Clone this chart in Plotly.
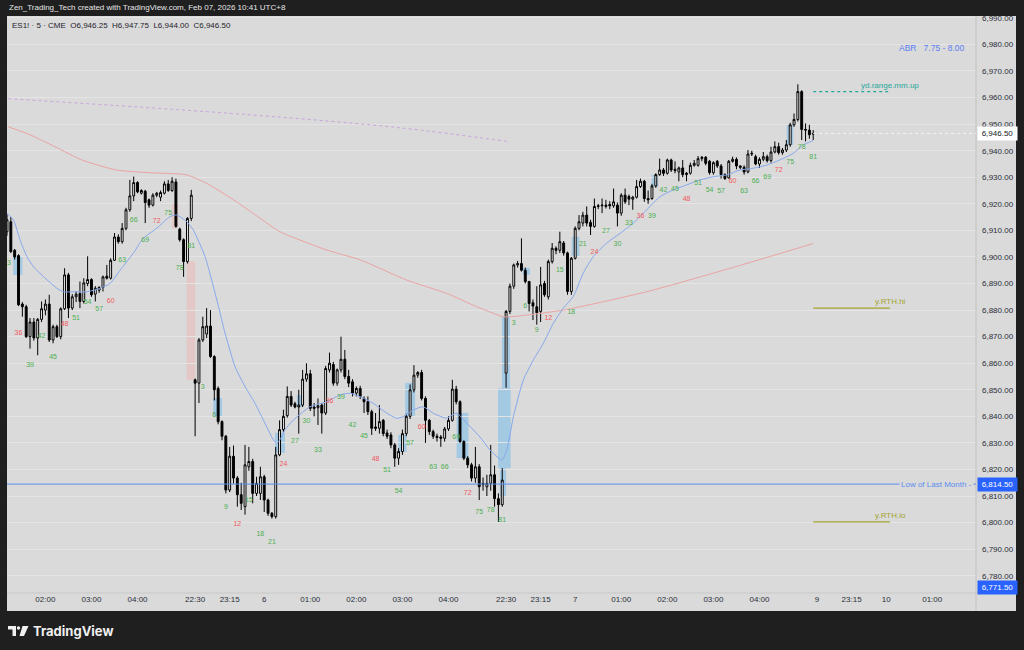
import plotly.graph_objects as go

# ---------------- DATA ----------------
BARS_PER_SESSION = 81  # RTH 22:30 - 05:15 (UTC+8), 5-minute bars

# Session 1 (visible from bar 33 to 81)
s1_first_bar = 33
s1_open = [6909.5, 6913.25, 6902.5, 6900.5, 6882.25, 6881.25, 6870.0, 6875.5, 6869.5, 6876.5,
           6880.0, 6882.25, 6868.75, 6873.75, 6870.0, 6880.5, 6893.25, 6880.75, 6885.0, 6886.25,
           6883.25, 6890.0, 6891.5, 6886.0, 6887.5, 6888.5, 6892.75, 6892.0, 6898.75, 6907.5,
           6905.75, 6910.75, 6917.75, 6923.0, 6928.0, 6924.0, 6924.75, 6921.5, 6919.5, 6923.25,
           6922.5, 6924.0, 6927.5, 6925.0, 6928.25, 6910.5, 6906.5, 6898.25, 6914.5]
s1_high = [6916.0, 6915.0, 6903.0, 6901.0, 6883.0, 6882.0, 6877.0, 6877.0, 6877.0, 6883.25,
           6884.0, 6885.75, 6874.5, 6874.5, 6881.0, 6895.75, 6894.0, 6886.0, 6887.0, 6890.75,
           6892.0, 6900.25, 6892.0, 6889.0, 6889.0, 6893.0, 6897.0, 6899.5, 6909.0, 6908.5,
           6912.75, 6918.5, 6929.0, 6930.25, 6928.5, 6925.5, 6925.25, 6922.0, 6924.0, 6924.5,
           6925.0, 6928.5, 6929.0, 6930.0, 6929.5, 6911.0, 6907.0, 6915.0, 6925.25]
s1_low = [6908.0, 6901.5, 6899.0, 6881.5, 6877.5, 6869.5, 6865.5, 6868.5, 6863.0, 6875.5,
          6878.0, 6868.0, 6867.5, 6869.5, 6869.0, 6880.0, 6877.0, 6880.0, 6883.0, 6880.75,
          6882.5, 6889.0, 6885.0, 6883.25, 6886.5, 6887.0, 6891.5, 6891.5, 6898.5, 6905.0,
          6905.0, 6910.0, 6917.0, 6921.0, 6924.0, 6923.5, 6912.75, 6918.5, 6919.0, 6922.5,
          6921.0, 6923.5, 6924.5, 6924.5, 6911.0, 6905.75, 6892.5, 6897.5, 6913.5]
s1_close = [6914.0, 6902.0, 6900.0, 6882.0, 6881.25, 6870.0, 6875.5, 6869.5, 6876.5, 6880.5,
            6882.25, 6868.75, 6873.75, 6870.0, 6880.5, 6893.25, 6880.75, 6885.0, 6886.0, 6883.25,
            6890.25, 6891.5, 6885.75, 6888.25, 6888.5, 6892.5, 6892.0, 6898.75, 6907.5, 6905.75,
            6910.75, 6917.75, 6923.0, 6928.0, 6924.5, 6925.0, 6920.5, 6919.5, 6923.25, 6924.0,
            6924.25, 6927.5, 6925.0, 6928.5, 6911.5, 6906.5, 6898.25, 6914.5, 6923.25]

# Session 2 (bars 1..81)
s2_open = [6853.75, 6852.5, 6868.75, 6871.0, 6874.0, 6862.5, 6850.5, 6838.0, 6832.5, 6812.25,
           6825.0, 6816.75, 6810.5, 6806.0, 6821.0, 6823.0, 6811.0, 6811.0, 6817.25, 6808.5,
           6803.5, 6802.25, 6825.5, 6835.0, 6840.25, 6847.5, 6844.75, 6843.5, 6844.25, 6854.0,
           6856.0, 6843.5, 6843.25, 6844.25, 6841.25, 6857.5, 6859.5, 6852.5, 6857.5, 6861.5,
           6855.0, 6853.0, 6848.75, 6850.5, 6846.75, 6845.5, 6841.75, 6836.0, 6835.5, 6838.5,
           6833.75, 6833.0, 6829.25, 6824.25, 6826.75, 6833.5, 6840.0, 6850.0, 6855.5, 6856.5,
           6846.75, 6838.5, 6834.25, 6832.5, 6832.25, 6831.75, 6835.25, 6838.5, 6850.25, 6845.5,
           6830.5, 6824.25, 6821.75, 6816.75, 6821.0, 6814.75, 6813.5, 6814.75, 6818.0, 6809.0,
           6806.75]
s2_high = [6854.25, 6869.5, 6877.5, 6880.75, 6880.0, 6863.0, 6851.25, 6838.5, 6833.0, 6828.5,
           6829.0, 6817.5, 6815.0, 6829.25, 6828.5, 6824.0, 6817.25, 6821.0, 6818.0, 6809.0,
           6804.0, 6828.5, 6838.5, 6842.5, 6851.25, 6849.5, 6845.5, 6850.0, 6857.5, 6860.0,
           6857.5, 6845.0, 6846.75, 6845.0, 6859.0, 6864.0, 6860.5, 6858.0, 6870.0, 6865.0,
           6857.5, 6854.0, 6851.25, 6851.5, 6847.5, 6847.5, 6842.5, 6841.25, 6844.25, 6839.0,
           6835.0, 6834.0, 6830.0, 6828.0, 6835.0, 6841.0, 6852.0, 6859.25, 6857.0, 6857.5,
           6847.5, 6839.0, 6835.0, 6833.5, 6833.0, 6836.0, 6840.0, 6853.75, 6851.5, 6846.0,
           6831.0, 6825.0, 6822.5, 6828.5, 6822.0, 6817.0, 6818.0, 6829.25, 6821.5, 6811.0,
           6820.5]
s2_low = [6832.5, 6845.0, 6868.0, 6869.5, 6862.0, 6846.0, 6837.0, 6831.0, 6811.0, 6811.5,
          6814.75, 6806.0, 6804.75, 6803.0, 6819.5, 6807.25, 6810.0, 6808.5, 6804.0, 6802.5,
          6801.5, 6801.5, 6825.0, 6834.0, 6839.5, 6843.5, 6843.0, 6833.5, 6843.5, 6853.0,
          6842.0, 6840.0, 6836.75, 6833.5, 6840.5, 6856.5, 6851.5, 6851.5, 6856.5, 6854.0,
          6851.0, 6847.5, 6847.5, 6846.5, 6841.25, 6840.5, 6833.0, 6834.5, 6833.5, 6832.5,
          6831.5, 6828.0, 6821.0, 6821.75, 6825.5, 6832.5, 6839.0, 6849.0, 6854.5, 6846.0,
          6830.0, 6833.0, 6831.5, 6830.5, 6828.5, 6830.5, 6834.5, 6838.0, 6844.5, 6830.0,
          6823.5, 6820.5, 6815.5, 6815.0, 6808.5, 6812.0, 6810.0, 6812.0, 6806.0, 6800.25,
          6806.0]
s2_close = [6852.5, 6868.75, 6873.75, 6874.0, 6862.5, 6850.0, 6838.0, 6832.5, 6812.25, 6825.0,
            6816.75, 6810.5, 6807.25, 6821.75, 6823.0, 6811.0, 6814.75, 6817.25, 6808.5, 6803.5,
            6802.25, 6825.5, 6835.0, 6840.0, 6847.5, 6844.25, 6843.5, 6844.25, 6854.0, 6856.0,
            6843.0, 6843.0, 6844.0, 6841.25, 6858.0, 6860.0, 6852.5, 6857.5, 6861.5, 6855.0,
            6852.5, 6848.75, 6850.5, 6847.5, 6845.5, 6841.75, 6835.5, 6835.5, 6838.0, 6833.5,
            6832.5, 6829.25, 6824.25, 6826.75, 6833.5, 6840.0, 6850.0, 6855.5, 6856.5, 6846.75,
            6838.5, 6834.25, 6832.5, 6832.0, 6831.75, 6835.25, 6838.5, 6850.25, 6845.5, 6830.5,
            6824.25, 6821.75, 6816.75, 6821.0, 6813.5, 6814.25, 6814.75, 6818.0, 6809.0, 6806.75,
            6816.0]

# Session 3 (bars 1..81)
s3_open = [6856.25, 6879.5, 6889.0, 6897.0, 6897.5, 6895.0, 6890.75, 6882.75, 6881.25, 6879.5,
           6890.0, 6885.0, 6898.25, 6903.25, 6902.5, 6905.25, 6901.5, 6887.0, 6899.5, 6910.75,
           6912.75, 6915.75, 6913.0, 6911.5, 6919.0, 6919.25, 6919.0, 6919.75, 6919.25, 6919.5,
           6916.5, 6923.25, 6922.75, 6921.75, 6922.5, 6926.5, 6928.5, 6922.0, 6922.0, 6926.75,
           6931.0, 6932.75, 6931.5, 6936.5, 6933.0, 6932.0, 6933.5, 6931.0, 6931.5, 6934.5,
           6934.5, 6937.0, 6937.5, 6936.0, 6931.75, 6936.0, 6934.25, 6931.0, 6929.75, 6936.0,
           6936.75, 6934.25, 6933.75, 6932.0, 6938.75, 6937.75, 6935.0, 6936.75, 6937.75, 6936.25,
           6939.5, 6941.5, 6939.25, 6940.25, 6942.25, 6949.75, 6951.75, 6962.25, 6948.0, 6947.75,
           6946.25]
s3_high = [6880.0, 6890.0, 6897.5, 6898.5, 6907.0, 6896.0, 6891.0, 6884.0, 6889.0, 6896.25,
           6891.0, 6899.0, 6905.25, 6904.0, 6909.5, 6906.0, 6902.0, 6900.0, 6911.5, 6915.75,
           6917.0, 6919.0, 6914.0, 6922.0, 6920.0, 6922.0, 6921.5, 6921.0, 6925.75, 6920.5,
           6924.0, 6925.75, 6923.5, 6923.0, 6929.0, 6929.5, 6929.0, 6925.0, 6927.5, 6931.5,
           6937.0, 6933.5, 6937.0, 6937.0, 6936.0, 6934.0, 6936.5, 6932.0, 6935.5, 6936.5,
           6938.0, 6938.0, 6938.0, 6936.5, 6936.0, 6936.5, 6935.0, 6931.5, 6936.5, 6937.75,
           6937.5, 6934.5, 6934.5, 6940.25, 6940.0, 6938.5, 6937.5, 6939.5, 6938.5, 6941.5,
           6943.5, 6943.0, 6941.0, 6944.0, 6950.5, 6954.0, 6965.0, 6962.75, 6950.25, 6949.75,
           6947.75]
s3_low = [6850.75, 6878.5, 6888.0, 6896.0, 6894.5, 6890.0, 6879.5, 6876.25, 6874.5, 6875.5,
          6885.0, 6884.0, 6897.5, 6901.0, 6901.5, 6900.5, 6885.75, 6885.75, 6899.0, 6910.0,
          6911.5, 6911.5, 6908.25, 6911.0, 6918.0, 6916.5, 6918.25, 6918.0, 6918.5, 6911.5,
          6915.5, 6920.0, 6919.5, 6917.75, 6922.0, 6926.0, 6920.75, 6920.0, 6921.5, 6926.0,
          6930.5, 6930.5, 6931.0, 6932.0, 6931.5, 6928.5, 6930.0, 6928.5, 6931.0, 6934.0,
          6934.0, 6936.0, 6934.5, 6931.0, 6931.0, 6933.5, 6929.5, 6929.0, 6929.5, 6935.5,
          6933.0, 6933.0, 6931.0, 6931.5, 6938.0, 6934.5, 6933.5, 6936.0, 6935.5, 6935.5,
          6939.0, 6938.5, 6938.5, 6939.5, 6941.5, 6949.0, 6951.0, 6944.0, 6943.5, 6944.5,
          6944.0]
s3_close = [6879.5, 6889.0, 6897.0, 6897.5, 6895.0, 6890.75, 6882.5, 6881.5, 6879.0, 6889.5,
            6885.75, 6898.25, 6903.25, 6902.5, 6905.75, 6901.5, 6887.0, 6899.5, 6910.75, 6913.25,
            6915.75, 6912.75, 6911.5, 6919.0, 6919.25, 6919.5, 6919.5, 6919.25, 6920.75, 6916.5,
            6923.25, 6920.75, 6921.75, 6922.5, 6926.5, 6928.5, 6922.0, 6921.5, 6926.75, 6931.0,
            6932.75, 6931.5, 6936.5, 6932.75, 6932.5, 6933.5, 6931.0, 6931.5, 6934.5, 6935.25,
            6937.0, 6937.5, 6935.25, 6931.75, 6935.5, 6934.25, 6931.0, 6929.5, 6936.0, 6936.75,
            6934.25, 6933.75, 6932.0, 6938.75, 6939.0, 6935.0, 6936.75, 6937.75, 6936.25, 6939.5,
            6941.5, 6939.25, 6940.25, 6942.25, 6949.75, 6951.75, 6962.25, 6948.0, 6947.75, 6946.0,
            6946.5]

# Bar-count labels (every 3rd bar), value = price level where the number is printed
s1_label_bars = list(range(33, 82, 3))
s1_label_y = [6897.6, 6871.3, 6859.1, 6870.2, 6862.2, 6874.5, 6877.0, 6883.0, 6880.3, 6883.5,
              6898.8, 6914.0, 6906.4, 6913.4, 6916.4, 6895.6, 6904.0]
s2_label_bars = list(range(3, 82, 3))
s2_label_y = [6850.9, 6840.5, 6805.7, 6799.4, 6808.5, 6795.5, 6792.6, 6821.8, 6830.6, 6838.3,
              6827.2, 6845.7, 6847.3, 6836.5, 6832.5, 6824.0, 6819.6, 6811.8, 6830.0, 6835.9,
              6820.8, 6820.8, 6832.1, 6811.2, 6803.9, 6804.5, 6800.9]
s3_label_bars = list(range(3, 82, 3))
s3_label_y = [6875.0, 6881.3, 6872.5, 6876.9, 6895.1, 6879.0, 6904.8, 6901.6, 6909.8, 6904.8,
              6912.7, 6915.4, 6915.5, 6925.2, 6925.5, 6921.8, 6927.7, 6925.2, 6924.8, 6928.4,
              6924.9, 6928.6, 6929.9, 6932.7, 6935.6, 6941.3, 6937.5]

# Fast moving average (blue) read at bar positions
ema_x = [32, 33.7, 35.4, 37.2, 38.9, 41.5, 45, 46.7, 49.3, 52.8, 56.3, 58.9, 61.5, 64.9, 67.5, 71,
         74.5, 76.2, 78.8, 80.5, 83.6, 85.3, 87.1, 88.8, 91.4, 94, 96.6, 99.2, 101.4, 102.3, 103.6,
         104.4, 106.6, 110.9, 115.3, 118.8, 121.4, 124, 127.4, 130.9, 133.5, 135.2, 137.8, 140.4,
         143, 146.5, 149.1, 151.8, 155.2, 157.8, 160.9, 162.2, 163.9, 166.5, 169.1, 171.7, 174.3,
         176.9, 179.5, 182.1, 184.7, 188.2, 191.7, 195.1, 198.6, 202.1, 205.5, 209, 212.5, 216,
         219.5, 222.9, 226.4, 229.9, 233.3, 236.8, 239.4, 242]
ema_y = [6916.4, 6913.9, 6906.4, 6900.1, 6896.3, 6892.6, 6888.2, 6886.9, 6886.9, 6886.9, 6888.2,
         6890.1, 6895.1, 6901.4, 6907.0, 6910.8, 6915.2, 6915.8, 6913.3, 6910.2, 6900.1, 6891.3,
         6881.3, 6871.3, 6858.7, 6851.2, 6844.9, 6837.4, 6831.1, 6829.9, 6832.4, 6835.0, 6838.6,
         6843.6, 6845.5, 6848.1, 6848.7, 6847.4, 6844.9, 6841.2, 6839.3, 6839.9, 6842.4, 6843.6,
         6841.2, 6839.3, 6841.2, 6837.4, 6832.2, 6827.4, 6823.6, 6827.4, 6839.9, 6853.7, 6861.2,
         6867.5, 6875.0, 6880.7, 6885.1, 6893.9, 6900.1, 6905.2, 6908.9, 6912.7, 6917.7, 6922.7,
         6925.2, 6927.1, 6929.0, 6930.2, 6930.9, 6932.7, 6933.4, 6934.6, 6936.5, 6939.0, 6942.2,
         6943.8]

# Slow moving average (pink-red)
slow_x = [32.3, 38, 44.5, 51.5, 60.6, 69.3, 78.8, 84, 91, 97.9, 103.1, 115.3, 124, 136.1, 146.5,
          154.3, 161.3, 163.4, 176.9, 198.6, 220.3, 241.9]
slow_y = [6949.0, 6946.0, 6941.5, 6936.5, 6932.7, 6931.7, 6930.9, 6927.7, 6921.5, 6914.6, 6909.5,
          6902.6, 6898.9, 6891.3, 6886.3, 6881.3, 6877.5, 6877.5, 6880.0, 6886.9, 6895.7, 6905.0]

# Dotted lavender line (previous-session reference)
dot_x = [32.3, 95.3, 134.4, 162.2]
dot_y = [6959.6, 6953.5, 6948.6, 6943.5]

# Highlight zones (bar range, price range)
zone_x0 = [33.6, 85.7, 101.8, 107.5, 133.9, 135.7, 149.1, 159.9, 160.9, 160.4, 166.4, 179.1, 199.9, 235.1, 78.8, 74.9]
zone_x1 = [36.0, 88.0, 104.4, 109.2, 136.1, 138.3, 152.2, 163.2, 163.0, 162.0, 168.2, 181.1, 201.6, 236.8, 81.0, 76.6]
zone_lo = [6893.2, 6839.9, 6826.3, 6843.5, 6826.6, 6839.8, 6824.3, 6820.5, 6850.6, 6809.8, 6893.2, 6900.4, 6926.5, 6942.2, 6853.7, 6910.8]
zone_hi = [6900.1, 6846.9, 6833.8, 6848.0, 6833.0, 6852.6, 6841.3, 6850.6, 6877.5, 6820.5, 6895.9, 6907.6, 6930.9, 6949.7, 6898.3, 6920.2]
zone_kind = ["blue"] * 14 + ["pink"] * 2

# Key levels
low_last_month = 6814.5
pinned_level = 6771.5
level_names = ["yd.range.mm.up", "y.RTH.hi", "y.RTH.lo"]
level_values = [6962.25, 6880.75, 6800.25]
level_len_bars = 20

# Time axis labels (bar index)
tick_idx = [42, 54, 66, 81, 90, 99, 111, 123, 135, 147, 162, 171, 180, 192, 204, 216, 228, 243, 252, 261, 273]
tick_text = ["02:00", "03:00", "04:00", "22:30", "23:15", "6", "01:00", "02:00", "03:00", "04:00",
             "22:30", "23:15", "7", "01:00", "02:00", "03:00", "04:00", "9", "23:15", "10", "01:00"]

# ---------------- FIGURE ----------------
W, H = 1024, 650
ML, MR, MT, MB = 7, 48, 16, 57
PW, PH = W - ML - MR, H - MT - MB
BG = "#dadada"
DARK = "#1f1f1f"
FONT = "Liberation Sans"


def px(x):
    return (x - ML) / PW


def py(y):
    return (H - MB - y) / PH


xs, O, Hh, L, C = [], [], [], [], []
for sess, first, so, sh, sl, sc in [(0, s1_first_bar, s1_open, s1_high, s1_low, s1_close),
                                    (1, 1, s2_open, s2_high, s2_low, s2_close),
                                    (2, 1, s3_open, s3_high, s3_low, s3_close)]:
    for k in range(len(so)):
        xs.append(sess * BARS_PER_SESSION + first - 1 + k)
        O.append(so[k]); Hh.append(sh[k]); L.append(sl[k]); C.append(sc[k])

fig = go.Figure()

# highlight zones
shapes = []
for x0, x1, lo, hi, kind in zip(zone_x0, zone_x1, zone_lo, zone_hi, zone_kind):
    col = "rgba(120,188,235,0.55)" if kind == "blue" else "rgba(240,175,175,0.45)"
    shapes.append(dict(type="rect", xref="x", yref="y", x0=x0, x1=x1, y0=lo, y1=hi,
                       fillcolor=col, line_width=0, layer="below"))

# light pane (plot + axis strips) and separators
shapes.insert(0, dict(type="rect", xref="paper", yref="paper", x0=px(7), x1=px(1016), y0=py(611), y1=py(16),
                      fillcolor=BG, line_width=0, layer="below"))
shapes.append(dict(type="line", xref="paper", yref="paper", x0=1, x1=1, y0=py(611), y1=1,
                   line=dict(color="#c2c2c2", width=1)))
shapes.append(dict(type="line", xref="paper", yref="paper", x0=0, x1=px(1016), y0=0, y1=0,
                   line=dict(color="#c8c8c8", width=1)))

# low of last month
shapes.append(dict(type="line", xref="paper", yref="y", x0=0, x1=1, y0=low_last_month, y1=low_last_month,
                   line=dict(color="#5b8cf0", width=1)))

fig.add_trace(go.Scatter(x=dot_x, y=dot_y, mode="lines", line=dict(color="#c9a3dc", width=1, dash="dot", shape="spline"),
                         hoverinfo="skip", showlegend=False))
fig.add_trace(go.Scatter(x=slow_x, y=slow_y, mode="lines", line=dict(color="#eba3a3", width=1, shape="spline", smoothing=0.6),
                         hoverinfo="skip", showlegend=False))
fig.add_trace(go.Scatter(x=ema_x, y=ema_y, mode="lines", line=dict(color="#86a8ec", width=1, shape="spline", smoothing=0.6),
                         hoverinfo="skip", showlegend=False))

fig.add_trace(go.Candlestick(
    x=xs, open=O, high=Hh, low=L, close=C,
    increasing=dict(line=dict(color="#000000", width=1), fillcolor="#ffffff"),
    decreasing=dict(line=dict(color="#000000", width=1), fillcolor="#000000"),
    whiskerwidth=0, hoverinfo="skip", showlegend=False))

# bar count labels
lab_x, lab_y, lab_t, lab_c = [], [], [], []
for sess, bars, ys in [(0, s1_label_bars, s1_label_y), (1, s2_label_bars, s2_label_y), (2, s3_label_bars, s3_label_y)]:
    for b, yv in zip(bars, ys):
        lab_x.append(sess * BARS_PER_SESSION + b - 1)
        lab_y.append(yv)
        lab_t.append(str(b))
        lab_c.append("#f05a5a" if b % 12 == 0 else "#4caf50")
fig.add_trace(go.Scatter(x=lab_x, y=lab_y, mode="text", text=lab_t,
                         textfont=dict(color=lab_c, size=7, family=FONT),
                         cliponaxis=True, hoverinfo="skip", showlegend=False))

# levels to the right of the last bar
last_idx = xs[-1]
annotations = []
for name, val in zip(level_names, level_values):
    col = "#26a69a" if "range" in name else "#a3a32e"
    dash = "dot" if "range" in name else "solid"
    shapes.append(dict(type="line", xref="x", yref="y", x0=last_idx, x1=last_idx + level_len_bars, y0=val, y1=val,
                       line=dict(color=col, width=1.3, dash=dash)))
    annotations.append(dict(x=last_idx + level_len_bars, y=val, xref="x", yref="y", text=name, showarrow=False,
                            xanchor="center", yanchor="bottom", yshift=0,
                            font=dict(color=col, size=8, family=FONT)))

# current price line
last_close = C[-1]
shapes.append(dict(type="line", xref="x", yref="y", x0=last_idx, x1=284.4, y0=last_close, y1=last_close,
                   line=dict(color="#f4f4f4", width=1, dash="dot")))

# axis price tags
annotations.append(dict(x=1, xref="paper", y=last_close, yref="y", text=f"{last_close:,.2f}", showarrow=False,
                        xanchor="left", xshift=1, bgcolor="#ffffff", width=37, height=11,
                        font=dict(color="#131722", size=8, family=FONT)))
annotations.append(dict(x=1, xref="paper", y=low_last_month, yref="y", text=f"{low_last_month:,.2f}", showarrow=False,
                        xanchor="left", xshift=1, bgcolor="#2962ff", width=37, height=11,
                        font=dict(color="#ffffff", size=8, family=FONT)))
annotations.append(dict(x=1, xref="paper", y=0, yref="paper", text=f"{pinned_level:,.2f}", showarrow=False,
                        xanchor="left", xshift=1, yanchor="bottom", yshift=-2, bgcolor="#2962ff", width=37, height=11,
                        font=dict(color="#ffffff", size=8, family=FONT)))
annotations.append(dict(x=1, xref="paper", y=low_last_month, yref="y", text="Low of Last Month -", showarrow=False,
                        xanchor="right", xshift=-2, bgcolor=BG,
                        font=dict(color="#5b8cf0", size=8, family=FONT)))

# header texts
annotations.append(dict(x=0, xref="paper", y=py(8), yref="paper", xanchor="left", yanchor="middle",
                        text="Zen_Trading_Tech created with TradingView.com, Feb 07, 2026 10:41 UTC+8",
                        showarrow=False, font=dict(color="#e6e6e6", size=8, family=FONT)))
annotations.append(dict(x=px(10), xref="paper", y=py(26), yref="paper", xanchor="left", yanchor="middle",
                        text=f"ES1! · 5 · CME  O{O[-1]:,.2f}  H{Hh[-1]:,.2f}  L{L[-1]:,.2f}  C{C[-1]:,.2f}",
                        showarrow=False, font=dict(color="#1e222d", size=8, family=FONT)))
annotations.append(dict(x=px(966), xref="paper", y=py(48), yref="paper", xanchor="right", yanchor="middle",
                        text="ABR   7.75 - 8.00", showarrow=False,
                        font=dict(color="#5b7ff2", size=8.5, family=FONT)))
annotations.append(dict(x=px(31), xref="paper", y=py(631), yref="paper", xanchor="left", yanchor="middle",
                        text="<b>TradingView</b>", showarrow=False,
                        font=dict(color="#f0f0f0", size=13, family="Inter")))

# TradingView logo glyph
shapes.append(dict(type="path", xref="paper", yref="paper",
                   path=f"M {px(8)},{py(626)} L {px(16)},{py(626)} L {px(16)},{py(636)} L {px(12.5)},{py(636)} "
                        f"L {px(12.5)},{py(629.5)} L {px(8)},{py(629.5)} Z",
                   fillcolor="#f0f0f0", line_width=0))
shapes.append(dict(type="circle", xref="paper", yref="paper", x0=px(16.8), x1=px(20.2), y0=py(629.7), y1=py(626.3),
                   fillcolor="#f0f0f0", line_width=0))
shapes.append(dict(type="path", xref="paper", yref="paper",
                   path=f"M {px(22.5)},{py(626)} L {px(28.5)},{py(626)} L {px(24)},{py(636)} L {px(19.5)},{py(636)} Z",
                   fillcolor="#f0f0f0", line_width=0))

fig.update_layout(
    width=W, height=H, margin=dict(l=ML, r=MR, t=MT, b=MB, pad=0),
    paper_bgcolor=DARK, plot_bgcolor=BG,
    font=dict(family=FONT, size=8, color="#2a2e39"),
    shapes=shapes, annotations=annotations, showlegend=False,
    xaxis=dict(range=[32.0, 284.4], showgrid=False, zeroline=False, showline=False,
               tickmode="array", tickvals=tick_idx, ticktext=tick_text, ticks="",
               tickfont=dict(size=8, color="#2a2e39", family=FONT),
               rangeslider=dict(visible=False), fixedrange=True),
    yaxis=dict(range=[6773.5, 6990.7], side="right", dtick=10, tick0=0, tickformat=",.2f",
               showgrid=True, gridcolor="#e4e4e4", gridwidth=1, zeroline=False, showline=False, ticks="",
               ticklabelstandoff=5, tickfont=dict(size=8, color="#2a2e39", family=FONT), fixedrange=True),
)

fig.write_html("out.html", include_plotlyjs=True, full_html=True,
               config={"displayModeBar": False, "staticPlot": True},
               post_script="document.body.style.margin='0';document.body.style.overflow='hidden';"
                           "document.body.style.background='#1f1f1f';")
